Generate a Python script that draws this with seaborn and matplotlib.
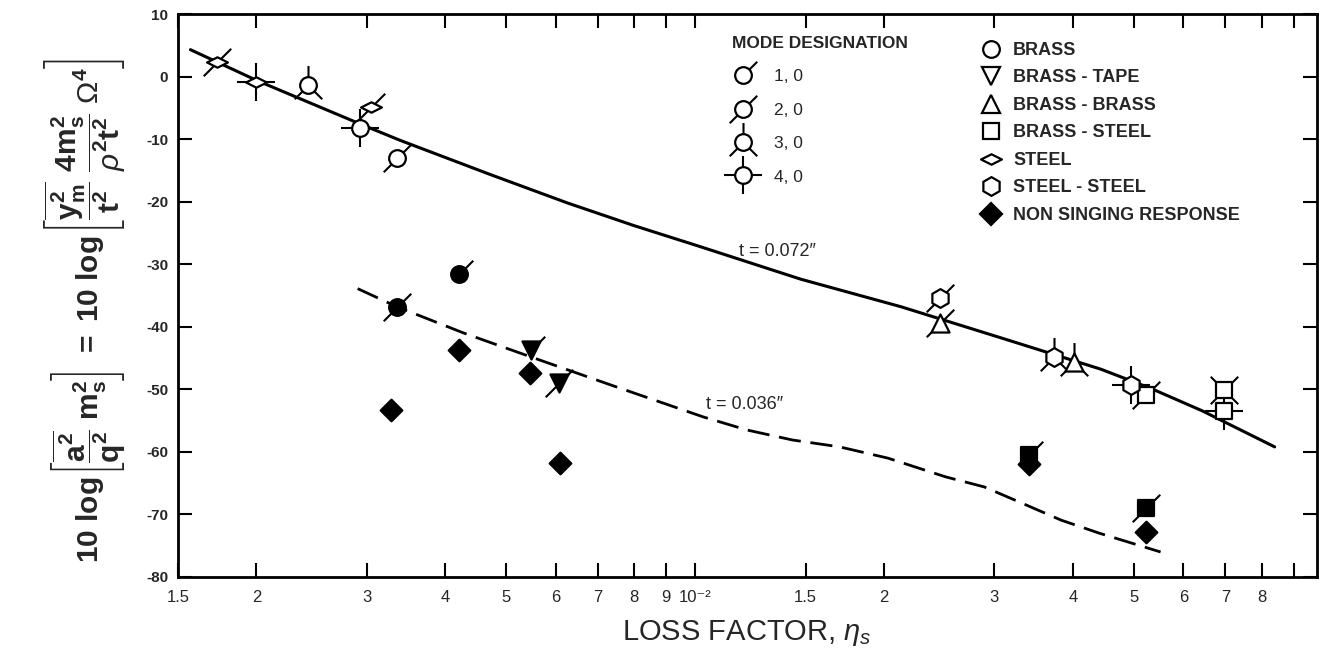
import numpy as np
import pandas as pd
import matplotlib
matplotlib.use('Agg')
import seaborn as sns
import matplotlib.pyplot as plt
from matplotlib.path import Path
from matplotlib.lines import Line2D
from matplotlib.ticker import NullLocator

# faired curves
thick_eta = [0.00157, 0.0020, 0.00293, 0.00339, 0.0047, 0.00626, 0.00798, 0.0102,
             0.01475, 0.0213, 0.0308, 0.0444, 0.0534, 0.0642, 0.0839]
thick_level = [4.3, -0.6, -7.6, -10.2, -15.6, -20.2, -23.8, -27.2,
               -32.4, -36.8, -41.8, -46.8, -49.9, -53.4, -59.2]
thin_eta = [0.0029, 0.00335, 0.00428, 0.00547, 0.00734, 0.0103, 0.0121, 0.0143,
            0.0170, 0.0203, 0.0251, 0.0289, 0.0332, 0.0383, 0.0441, 0.0552]
thin_level = [-33.9, -36.8, -41.0, -44.8, -49.3, -54.4, -56.5, -58.1,
              -59.2, -61.0, -64.0, -65.6, -68.2, -70.9, -73.0, -76.0]

# singing points, t = 0.072" (open symbols)
open_eta = [0.00173, 0.0020, 0.00242, 0.00304, 0.00293, 0.00335, 0.0246, 0.0246,
            0.0374, 0.0402, 0.0496, 0.0524, 0.0696, 0.0696]
open_level = [2.4, -0.8, -1.3, -4.8, -8.2, -13.0, -35.4, -39.4,
              -44.8, -45.6, -49.3, -50.9, -50.1, -53.4]
open_material = ['STEEL', 'STEEL', 'BRASS', 'STEEL', 'BRASS', 'BRASS', 'STEEL - STEEL', 'BRASS - BRASS',
                 'STEEL - STEEL', 'BRASS - BRASS', 'STEEL - STEEL', 'BRASS - STEEL', 'BRASS - STEEL', 'BRASS - STEEL']
open_mode = ['2, 0', '4, 0', '3, 0', '2, 0', '4, 0', '2, 0', '2, 0', '2, 0',
             '3, 0', '3, 0', '4, 0', '2, 0', 'x', '4, 0']

# singing points, t = 0.036" (filled symbols)
filled_eta = [0.0042, 0.00335, 0.00547, 0.00606, 0.034, 0.0524]
filled_level = [-31.5, -36.8, -43.7, -49.0, -60.5, -69.0]
filled_material = ['BRASS', 'BRASS', 'BRASS - TAPE', 'BRASS - TAPE', 'BRASS - STEEL', 'BRASS - STEEL']
filled_mode = ['1, 0', '2, 0', '1, 0', '2, 0', '1, 0', '2, 0']

# non singing response
ns_eta = [0.0042, 0.00328, 0.00545, 0.0061, 0.034, 0.0524]
ns_level = [-43.7, -53.3, -47.4, -61.8, -61.9, -72.8]

modes = ['1, 0', '2, 0', '3, 0', '4, 0']
materials = ['BRASS', 'BRASS - TAPE', 'BRASS - BRASS', 'BRASS - STEEL', 'STEEL', 'STEEL - STEEL',
             'NON SINGING RESPONSE']

xtick_vals = [0.0015, 0.002, 0.003, 0.004, 0.005, 0.006, 0.007, 0.008, 0.009, 0.01,
              0.015, 0.02, 0.03, 0.04, 0.05, 0.06, 0.07, 0.08, 0.09]
xtick_labels = ['1.5', '2', '3', '4', '5', '6', '7', '8', '9', '10\u207b\u00b2',
                '1.5', '2', '3', '4', '5', '6', '7', '8', '']

MODE_ANGLES = {'1, 0': [45], '2, 0': [45, 225], '3, 0': [90, 225, 315],
               '4, 0': [0, 90, 180, 270], 'x': [45, 135, 225, 315]}


def mode_marker(mode):
    verts = [(1.0, 0.0)]
    codes = [Path.MOVETO]
    for a in MODE_ANGLES[mode]:
        r = np.deg2rad(a)
        verts += [(0.0, 0.0), (np.cos(r), np.sin(r))]
        codes += [Path.MOVETO, Path.LINETO]
    return Path(verts, codes)


wide_diamond = Path([(-1, 0), (0, 0.5), (1, 0), (0, -0.5), (-1, 0)],
                    [Path.MOVETO, Path.LINETO, Path.LINETO, Path.LINETO, Path.CLOSEPOLY])

SHAPES = {'BRASS': ('o', 12), 'BRASS - TAPE': ('v', 13), 'BRASS - BRASS': ('^', 13),
          'BRASS - STEEL': ('s', 12), 'STEEL': (wide_diamond, 15), 'STEEL - STEEL': ('h', 13.5),
          'NON SINGING RESPONSE': ('D', 11)}
TICK_MS = 28

sns.set_style('ticks')
plt.rcParams['font.family'] = ['Liberation Sans', 'DejaVu Sans']
plt.rcParams['mathtext.fontset'] = 'custom'
plt.rcParams['mathtext.rm'] = 'Liberation Sans'
plt.rcParams['mathtext.it'] = 'Liberation Sans:italic'
plt.rcParams['mathtext.bf'] = 'Liberation Sans:bold'

fig = plt.figure(figsize=(13.21, 6.59), dpi=100)
ax = fig.add_axes([178 / 1321, 1 - 577 / 659, (1317 - 178) / 1321, (577 - 14) / 659])

sns.lineplot(x=thick_eta, y=thick_level, ax=ax, color='black', lw=2.2, sort=False,
             estimator=None, zorder=2)
sns.lineplot(x=thin_eta, y=thin_level, ax=ax, color='black', lw=2.0, sort=False,
             estimator=None, zorder=2, linestyle=(0, (8, 3.5)))

pts = pd.concat([
    pd.DataFrame({'eta': open_eta, 'level': open_level, 'material': open_material,
                  'mode': open_mode, 'fill': 'white'}),
    pd.DataFrame({'eta': filled_eta, 'level': filled_level, 'material': filled_material,
                  'mode': filled_mode, 'fill': 'black'}),
    pd.DataFrame({'eta': ns_eta, 'level': ns_level, 'material': 'NON SINGING RESPONSE',
                  'mode': 'none', 'fill': 'black'}),
], ignore_index=True)

for mode, grp in pts[pts['mode'] != 'none'].groupby('mode'):
    sns.scatterplot(data=grp, x='eta', y='level', marker=mode_marker(mode), s=TICK_MS ** 2,
                    color='black', edgecolor='black', linewidth=1.5, ax=ax, zorder=3, legend=False)
for (mat, fill), grp in pts.groupby(['material', 'fill']):
    m, ms = SHAPES[mat]
    sns.scatterplot(data=grp, x='eta', y='level', marker=m, s=ms ** 2, color=fill,
                    edgecolor='black', linewidth=1.6, ax=ax, zorder=4, legend=False)

ax.set_xscale('log')
ax.set_xticks(xtick_vals)
ax.set_xticklabels(xtick_labels, fontsize=12, family=['Liberation Sans Narrow', 'Liberation Sans', 'DejaVu Sans'])
ax.xaxis.set_minor_locator(NullLocator())
ax.set_yticks(np.arange(-80, 11, 10))
ax.set_yticklabels([str(v) for v in np.arange(-80, 11, 10)], fontsize=11, fontweight='bold')
ax.set_xlim(0.0015, 0.098)
ax.set_ylim(-80, 10)
ax.tick_params(direction='in', top=True, right=True, length=10, width=1.5, color='black')
ax.tick_params(axis='x', pad=9)
ax.tick_params(axis='y', pad=7)
for sp in ax.spines.values():
    sp.set_linewidth(2)
    sp.set_color('black')
ax.set_xlabel('')
ax.set_ylabel('')

ax.text(0.01175, -28, 't = 0.072\u2033', fontsize=13, ha='left', va='center')
ax.text(0.0104, -52.5, 't = 0.036\u2033', fontsize=13, ha='left', va='center')

# legends
mode_handles = [(Line2D([], [], ls='none', marker=mode_marker(m), ms=TICK_MS, mec='black', mfc='black', mew=1.5),
                 Line2D([], [], ls='none', marker='o', ms=12, mfc='white', mec='black', mew=1.6))
                for m in modes]
leg1 = ax.legend(mode_handles, modes, title='MODE DESIGNATION', loc='upper left',
                 bbox_to_anchor=(732 / 1321, 1 - 36 / 659), bbox_transform=fig.transFigure,
                 frameon=False, fontsize=12.5, title_fontproperties={'size': 12.5, 'weight': 'semibold'},
                 handlelength=1.3, handletextpad=1.1, labelspacing=1.05, alignment='left',
                 borderpad=0, borderaxespad=0)
ax.add_artist(leg1)

mat_handles = []
for mat in materials:
    m, ms = SHAPES[mat]
    fc = 'black' if mat == 'NON SINGING RESPONSE' else 'white'
    mat_handles.append(Line2D([], [], ls='none', marker=m, ms=ms, mfc=fc, mec='black', mew=1.6))
leg2 = ax.legend(mat_handles, materials, loc='upper left',
                 bbox_to_anchor=(982 / 1321, 1 - 42 / 659), bbox_transform=fig.transFigure,
                 frameon=False, prop={'size': 13, 'weight': 'bold'},
                 handlelength=1.05, handletextpad=0.68, labelspacing=0.58,
                 borderpad=0, borderaxespad=0)

fig.text(747 / 1321, 1 - 633 / 659, r'LOSS FACTOR, $\eta_{s}$', fontsize=21, ha='center', va='center')

ylab = (r'$\mathbf{10\ log}\left[\dfrac{\overline{\mathbf{a}^{\mathbf{2}}}}{\mathbf{q}^{\mathbf{2}}}'
        r'\ \mathbf{m}_{\mathbf{s}}^{\mathbf{2}}\right]\ \mathbf{=\ 10\ log}'
        r'\left[\dfrac{\overline{\mathbf{y}_{\mathbf{m}}^{\mathbf{2}}}}{\mathbf{t}^{\mathbf{2}}}\ '
        r'\dfrac{\mathbf{4m}_{\mathbf{s}}^{\mathbf{2}}}{\rho^{\mathbf{2}}\mathbf{t}^{\mathbf{2}}}\ '
        r'\Omega^{\mathbf{4}}\right]$')
fig.text(85 / 1321, 1 - 310 / 659, ylab, fontsize=21.5, rotation=90, ha='center', va='center')

plt.savefig('out.png', dpi=100)
